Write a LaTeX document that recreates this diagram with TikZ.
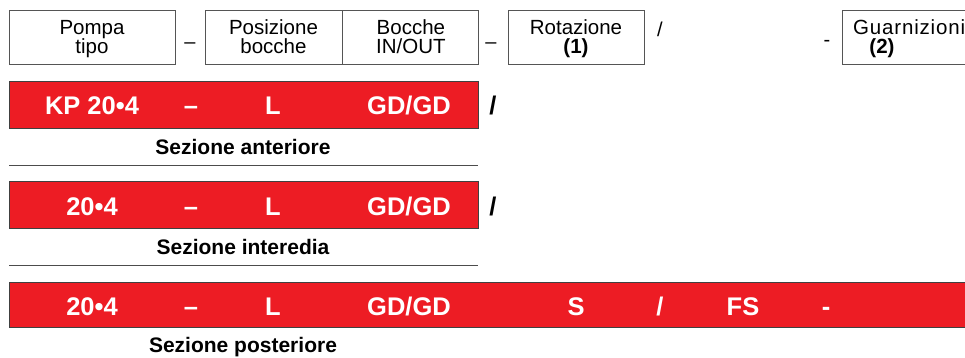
\documentclass[tikz,border=0pt]{standalone}
\usepackage{fontspec}
\setmainfont{Liberation Sans}
\definecolor{barred}{HTML}{ED1C24}
\definecolor{boxgray}{HTML}{555555}
\begin{document}
\begin{tikzpicture}[x=1pt,y=-1pt,
  hbox/.style={draw=boxgray,line width=0.9pt,minimum height=54pt,inner sep=0pt},
  htxt/.style={inner sep=0pt,anchor=base,font=\fontsize{20.5}{19}\selectfont},
  septxt/.style={inner sep=0pt,anchor=base,font=\fontsize{20}{20}\selectfont},
  redbar/.style={draw=black!75,line width=0.8pt,fill=barred},
  bartxt/.style={inner sep=0pt,anchor=base,text=white,font=\bfseries\fontsize{25.5}{25}\selectfont},
  slashtxt/.style={inner sep=0pt,anchor=base,font=\bfseries\fontsize{25.5}{25}\selectfont},
  captxt/.style={inner sep=0pt,anchor=base,font=\bfseries\fontsize{21}{21}\selectfont},
  hrule/.style={draw=black!70,line width=0.8pt}]
\useasboundingbox (0,0) rectangle (965,358);
\begin{scope}
\clip (0,0) rectangle (965,358);
% header boxes
\node[hbox,minimum width=166pt] (pompa) at (92,37) {};
\node[htxt] (pompa1) at (92,35) {Pompa};
\node[htxt] (pompa2) at (92,54) {tipo};
\node[septxt] (d1) at (190,49) {–};
\node[hbox,minimum width=137pt] (pos) at (273.5,37) {};
\node[htxt] (pos1) at (273.5,35) {Posizione};
\node[htxt] (pos2) at (273.5,54) {bocche};
\node[hbox,minimum width=136pt,anchor=west] (bocche) at (pos.east) {};
\node[htxt] (boc1) at (bocche.center |- 0,35) {Bocche};
\node[htxt] (boc2) at (bocche.center |- 0,54) {IN/OUT};
\node[septxt] (d2) at (491,49) {–};
\node[hbox,minimum width=136pt] (rot) at (576,37) {};
\node[htxt] (rot1) at (576,35) {Rotazione};
\node[htxt,font=\bfseries\fontsize{20.5}{19}\selectfont] (rot2) at (576,54) {(1)};
\node[septxt] (s1) at (660,37) {/};
\node[septxt] (d3) at (827,47) {-};
\node[hbox,minimum width=150pt,anchor=north west] (guarn) at (842,10) {};
\node[htxt,anchor=base west,font=\addfontfeature{LetterSpace=4}\fontsize{20.5}{19}\selectfont] (gt) at (853,35) {Guarnizioni};
\node[htxt,font=\bfseries\fontsize{20.5}{19}\selectfont] (g2) at (882,54) {(2)};
% bar 1
\path[redbar] (9,81) rectangle (478,128);
\node[bartxt] (a1) at (92,115) {KP 20•4};
\node[bartxt] (a2) at (191,115) {–};
\node[bartxt] (a3) at (273,115) {L};
\node[bartxt] (a4) at (409,115) {GD/GD};
\node[slashtxt] (a5) at (493,115) {/};
\node[captxt] (capa) at (243,154) {Sezione anteriore};
\coordinate (la1) at (9,165); \coordinate (la2) at (478,165);
\draw[hrule] (la1) -- (la2);
% bar 2
\path[redbar] (9,181) rectangle (478,228);
\node[bartxt] (b1) at (92,215) {20•4};
\node[bartxt] (b2) at (191,215) {–};
\node[bartxt] (b3) at (273,215) {L};
\node[bartxt] (b4) at (409,215) {GD/GD};
\node[slashtxt] (b5) at (493,215) {/};
\node[captxt] (capb) at (243,254) {Sezione interedia};
\coordinate (lb1) at (9,265); \coordinate (lb2) at (478,265);
\draw[hrule] (lb1) -- (lb2);
% bar 3
\path[redbar] (9,282) rectangle (980,327);
\node[bartxt] (c1) at (92,315) {20•4};
\node[bartxt] (c2) at (191,315) {–};
\node[bartxt] (c3) at (273,315) {L};
\node[bartxt] (c4) at (409,315) {GD/GD};
\node[bartxt] (c5) at (576,315) {S};
\node[bartxt] (c6) at (660,315) {/};
\node[bartxt] (c7) at (743,315) {FS};
\node[bartxt] (c8) at (826,315) {-};
\node[captxt] (capc) at (243,352) {Sezione posteriore};
\end{scope}
\end{tikzpicture}
\end{document}
